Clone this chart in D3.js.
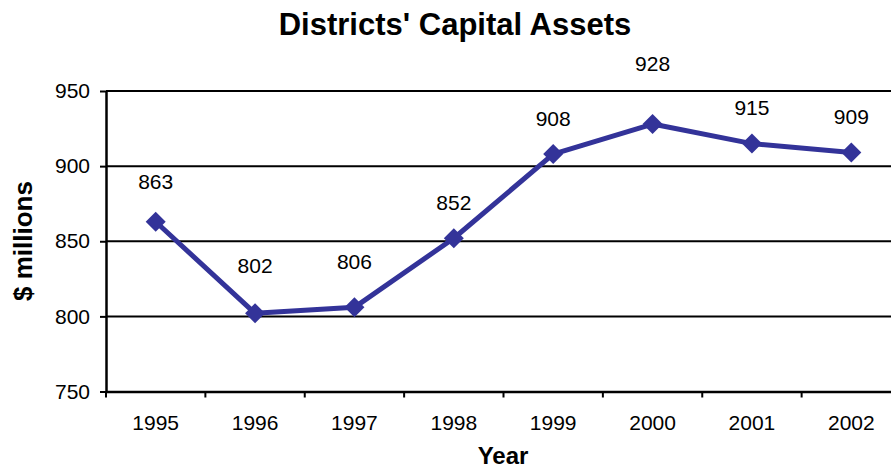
<!DOCTYPE html>
<html>
<head>
<meta charset="utf-8">
<script src="https://cdn.jsdelivr.net/npm/d3@7"></script>
<style>
  html, body { margin: 0; padding: 0; background: #fff; }
  svg { display: block; font-family: "Liberation Sans", Arial, sans-serif; }
</style>
</head>
<body>
<svg id="chart" width="891" height="470"></svg>
<script>
// Capital assets by year ($ millions)
const years = ["1995", "1996", "1997", "1998", "1999", "2000", "2001", "2002"];
const assets = [863, 802, 806, 852, 908, 928, 915, 909];
const yTicks = [750, 800, 850, 900, 950];

const chartTitle = "Districts' Capital Assets";
const xTitle = "Year";
const yTitle = "$ millions";

// Layout
const plot = { left: 106, right: 901, top: 91, bottom: 391.5 };
// Vertical gap (px) between each marker and its value label
const labelLift = [40, 48, 46, 36, 36, 61, 36, 36];
const lineColor = "#333399";
const tickFont = 21;

const svg = d3.select("#chart");

const x = d3.scaleBand().domain(years).range([plot.left, plot.right]);
const y = d3.scaleLinear().domain([750, 950]).range([plot.bottom, plot.top]);
const cx = (i) => x(years[i]) + x.bandwidth() / 2;

// Horizontal gridlines
svg.append("g")
  .selectAll("line")
  .data(yTicks.filter(d => d > 750))
  .join("line")
  .attr("x1", plot.left).attr("x2", plot.right)
  .attr("y1", d => y(d)).attr("y2", d => y(d))
  .attr("stroke", "#000").attr("stroke-width", 2);

// Y axis
const yAxis = svg.append("g")
  .attr("transform", `translate(${plot.left},0)`)
  .call(d3.axisLeft(y).tickValues(yTicks).tickSize(6).tickPadding(10).tickSizeOuter(0));
yAxis.select(".domain").attr("stroke", "#000").attr("stroke-width", 2.5);
yAxis.selectAll(".tick line").attr("stroke", "#000").attr("stroke-width", 2);
yAxis.selectAll(".tick text").attr("font-size", tickFont).attr("fill", "#000")
  .attr("font-family", "Liberation Sans, Arial, sans-serif");

// X axis with ticks between categories
const xAxis = svg.append("g")
  .attr("transform", `translate(0,${plot.bottom})`)
  .call(d3.axisBottom(x).tickSize(0).tickPadding(24).tickSizeOuter(0));
xAxis.select(".domain").attr("stroke", "#000").attr("stroke-width", 2.5);
xAxis.selectAll(".tick text").attr("font-size", tickFont).attr("fill", "#000")
  .attr("font-family", "Liberation Sans, Arial, sans-serif");
svg.append("g")
  .selectAll("line")
  .data(years)
  .join("line")
  .attr("x1", d => x(d)).attr("x2", d => x(d))
  .attr("y1", plot.bottom).attr("y2", plot.bottom + 6)
  .attr("stroke", "#000").attr("stroke-width", 2);

// Series line
const line = d3.line()
  .x((d, i) => cx(i))
  .y(d => y(d));
svg.append("path")
  .datum(assets)
  .attr("d", line)
  .attr("fill", "none")
  .attr("stroke", lineColor)
  .attr("stroke-width", 5)
  .attr("stroke-linejoin", "round");

// Diamond markers
const diamond = d3.symbol().type(d3.symbolSquare).size(200);
svg.append("g")
  .selectAll("path")
  .data(assets)
  .join("path")
  .attr("d", diamond)
  .attr("transform", (d, i) => `translate(${cx(i)},${y(d)}) rotate(45)`)
  .attr("fill", lineColor);

// Value labels
svg.append("g")
  .selectAll("text")
  .data(assets)
  .join("text")
  .attr("x", (d, i) => cx(i))
  .attr("y", (d, i) => y(d) - labelLift[i] + 7.5)
  .attr("text-anchor", "middle")
  .attr("font-size", tickFont)
  .text(d => d);

// Titles
svg.append("text")
  .attr("x", 455).attr("y", 35)
  .attr("text-anchor", "middle")
  .attr("font-size", 31).attr("font-weight", "bold")
  .text(chartTitle);

svg.append("text")
  .attr("x", 503).attr("y", 464)
  .attr("text-anchor", "middle")
  .attr("font-size", 24).attr("font-weight", "bold")
  .text(xTitle);

svg.append("text")
  .attr("transform", "translate(32,241) rotate(-90)")
  .attr("text-anchor", "middle")
  .attr("font-size", 26).attr("font-weight", "bold")
  .text(yTitle);
</script>
</body>
</html>
